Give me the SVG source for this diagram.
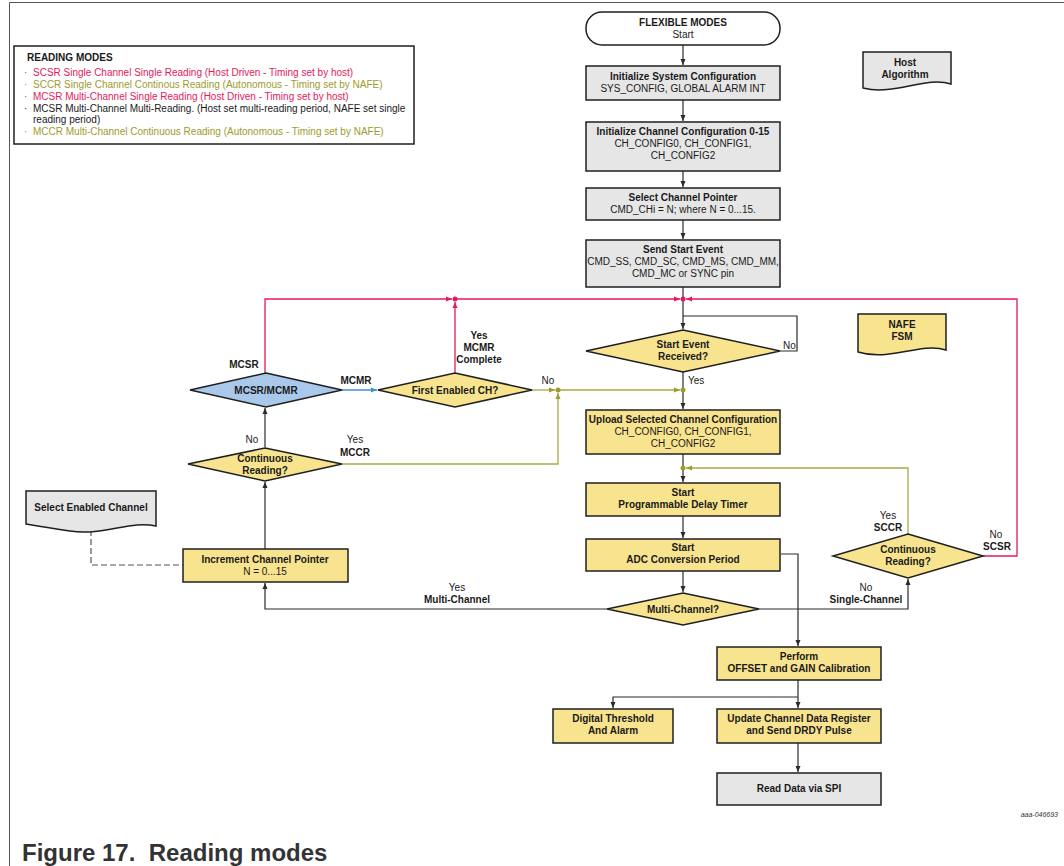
<svg xmlns="http://www.w3.org/2000/svg" width="1064" height="866" viewBox="0 0 1064 866">
<defs>
<style>
text{font-family:"Liberation Sans",Arial,sans-serif;font-size:10px;fill:#1a1a1a}
.b{font-weight:bold}
.c{text-anchor:middle}
.box{stroke:#1f1f1f;stroke-width:1.5}
.gray{fill:#e6e6e6}
.yel{fill:#f8e38f}
.blue{fill:#a9c8ea}
.ln{fill:none;stroke:#2b2b2b;stroke-width:1.2}
.red{fill:none;stroke:#e5195a;stroke-width:1.3}
.olv{fill:none;stroke:#a8a84a;stroke-width:1.3}
.blu{fill:none;stroke:#3c8fd9;stroke-width:1.3}
.tr{fill:#e5195a}
.to{fill:#9c9c2d}
</style>
<marker id="ak" markerWidth="6" markerHeight="6" refX="6" refY="3" orient="auto" markerUnits="userSpaceOnUse"><path d="M0,0.5 L6,3 L0,5.5 z" fill="#2b2b2b"/></marker>
<marker id="ar" markerWidth="6" markerHeight="6" refX="6" refY="3" orient="auto" markerUnits="userSpaceOnUse"><path d="M0,0.5 L6,3 L0,5.5 z" fill="#e5195a"/></marker>
<marker id="ao" markerWidth="6" markerHeight="6" refX="6" refY="3" orient="auto" markerUnits="userSpaceOnUse"><path d="M0,0.5 L6,3 L0,5.5 z" fill="#9c9c2d"/></marker>
<marker id="ab" markerWidth="6" markerHeight="6" refX="6" refY="3" orient="auto" markerUnits="userSpaceOnUse"><path d="M0,0.5 L6,3 L0,5.5 z" fill="#3c8fd9"/></marker>
</defs>
<rect width="1064" height="866" fill="#ffffff"/>
<path d="M9.5,866 V2.5 H1064" fill="none" stroke="#555" stroke-width="1"/>

<g id="legend">
<rect x="14" y="46" width="400" height="98" fill="#fff" stroke="#1f1f1f" stroke-width="1.5"/>
<text x="27" y="61" class="b">READING MODES</text>
<text x="24" y="76" class="tr">·</text><text x="33" y="76" class="tr">SCSR Single Channel Single Reading (Host Driven - Timing set by host)</text>
<text x="24" y="88" class="to">·</text><text x="33" y="88" class="to">SCCR Single Channel Continous Reading (Autonomous - Timing set by NAFE)</text>
<text x="24" y="100" class="tr">·</text><text x="33" y="100" class="tr">MCSR Multi-Channel Single Reading (Host Driven - Timing set by host)</text>
<text x="24" y="112">·</text><text x="33" y="112">MCSR Multi-Channel Multi-Reading. (Host set multi-reading period, NAFE set single</text>
<text x="33" y="123">reading period)</text>
<text x="24" y="135" class="to">·</text><text x="33" y="135" class="to">MCCR Multi-Channel Continuous Reading (Autonomous - Timing set by NAFE)</text>
</g>

<g id="connectors">
<path class="ln" d="M683,45 V65" marker-end="url(#ak)"/>
<path class="ln" d="M683,100 V121" marker-end="url(#ak)"/>
<path class="ln" d="M683,171 V187" marker-end="url(#ak)"/>
<path class="ln" d="M683,220 V239" marker-end="url(#ak)"/>
<path class="ln" d="M683,287 V329" marker-end="url(#ak)"/>
<path class="ln" d="M780,351 H797 V316 H683"/>
<path class="ln" d="M683,372 V409" marker-end="url(#ak)"/>
<path class="ln" d="M683,454 V482" marker-end="url(#ak)"/>
<path class="ln" d="M683,516 V538" marker-end="url(#ak)"/>
<path class="ln" d="M683,571 V592" marker-end="url(#ak)"/>
<path class="ln" d="M781,554 H798 V646" marker-end="url(#ak)"/>
<path class="ln" d="M607,609 H265 V583" marker-end="url(#ak)"/>
<path class="ln" d="M759,609 H908 V579" marker-end="url(#ak)"/>
<path class="ln" d="M798,680 V708" marker-end="url(#ak)"/>
<path class="ln" d="M798,697 H613 V708" marker-end="url(#ak)"/>
<path class="ln" d="M798,743 V772" marker-end="url(#ak)"/>
<path class="ln" d="M265,549 V482" marker-end="url(#ak)"/>
<path class="ln" d="M265,447 V408" marker-end="url(#ak)"/>
<path d="M91,530 V565 H183" fill="none" stroke="#555" stroke-width="1.2" stroke-dasharray="6,3"/>
<path class="blu" d="M342,390 H377" marker-end="url(#ab)"/>
<path class="red" d="M265,373 V299 H452" marker-end="url(#ar)"/>
<path class="red" d="M455,373 V302" marker-end="url(#ar)"/>
<path class="red" d="M455,299 H680" marker-end="url(#ar)"/>
<path class="red" d="M983,556 H1017 V299 H686" marker-end="url(#ar)"/>
<path class="olv" d="M532,390 H555" marker-end="url(#ao)"/>
<path class="olv" d="M558,390 H680" marker-end="url(#ao)"/>
<path class="olv" d="M342,464 H558 V393" marker-end="url(#ao)"/>
<path class="olv" d="M908,534 V468 H686" marker-end="url(#ao)"/>
<circle cx="455" cy="299" r="2.5" fill="#e5195a"/>
<circle cx="683" cy="299" r="2.5" fill="#e5195a"/>
<circle cx="558" cy="390" r="2.5" fill="#9c9c2d"/>
<circle cx="683" cy="390" r="2.5" fill="#9c9c2d"/>
<circle cx="683" cy="468" r="2.5" fill="#9c9c2d"/>
</g>

<g id="labels">
<text x="244" y="368" class="b c">MCSR</text>
<text x="356" y="384" class="b c">MCMR</text>
<text x="479" y="339" class="b c">Yes</text>
<text x="479" y="351" class="b c">MCMR</text>
<text x="479" y="363" class="b c">Complete</text>
<text x="548" y="384" class="c">No</text>
<text x="783" y="349">No</text>
<text x="688" y="384">Yes</text>
<text x="252" y="443" class="c">No</text>
<text x="355" y="443" class="c">Yes</text>
<text x="355" y="456" class="b c">MCCR</text>
<text x="457" y="591" class="c">Yes</text>
<text x="457" y="603" class="b c">Multi-Channel</text>
<text x="866" y="591" class="c">No</text>
<text x="866" y="603" class="b c">Single-Channel</text>
<text x="888" y="519" class="c">Yes</text>
<text x="888" y="531" class="b c">SCCR</text>
<text x="996" y="538" class="c">No</text>
<text x="997" y="550" class="b c">SCSR</text>
</g>

<g id="start">
<rect x="586" y="12" width="194" height="33" rx="16" fill="#fff" class="box"/>
<text x="683" y="26" class="b c">FLEXIBLE MODES</text>
<text x="683" y="38" class="c">Start</text>
</g>
<g id="init-sys">
<rect x="586" y="66" width="194" height="34" class="box gray"/>
<text x="683" y="80" class="b c">Initialize System Configuration</text>
<text x="683" y="92" class="c">SYS_CONFIG, GLOBAL ALARM INT</text>
</g>
<g id="init-ch">
<rect x="586" y="122" width="194" height="49" class="box gray"/>
<text x="683" y="135" class="b c">Initialize Channel Configuration 0-15</text>
<text x="683" y="147" class="c">CH_CONFIG0, CH_CONFIG1,</text>
<text x="683" y="159" class="c">CH_CONFIG2</text>
</g>
<g id="select-ptr">
<rect x="586" y="188" width="194" height="32" class="box gray"/>
<text x="683" y="201" class="b c">Select Channel Pointer</text>
<text x="683" y="213" class="c">CMD_CHi = N; where N = 0...15.</text>
</g>
<g id="send-start">
<rect x="586" y="240" width="194" height="47" class="box gray"/>
<text x="683" y="253" class="b c">Send Start Event</text>
<text x="683" y="265" class="c">CMD_SS, CMD_SC, CMD_MS, CMD_MM,</text>
<text x="683" y="277" class="c">CMD_MC or SYNC pin</text>
</g>
<g id="host-alg">
<path d="M863,52 H951 V84 C925,76 895,96 863,88 Z" class="box gray"/>
<text x="905" y="66" class="b c">Host</text>
<text x="905" y="78" class="b c">Algorithm</text>
</g>
<g id="nafe-fsm">
<path d="M858,314 H946 V350 C920,342 890,362 858,352 Z" class="box yel"/>
<text x="902" y="328" class="b c">NAFE</text>
<text x="902" y="340" class="b c">FSM</text>
</g>
<g id="start-event">
<polygon points="683,330 780,351 683,372 586,351" class="box yel"/>
<text x="683" y="348" class="b c">Start Event</text>
<text x="683" y="360" class="b c">Received?</text>
</g>
<g id="mcsr-mcmr">
<polygon points="266,373 342,390 266,407 190,390" class="box blue"/>
<text x="266" y="394" class="b c">MCSR/MCMR</text>
</g>
<g id="first-enabled">
<polygon points="455,373 532,390 455,407 378,390" class="box yel"/>
<text x="455" y="394" class="b c">First Enabled CH?</text>
</g>
<g id="upload">
<rect x="586" y="410" width="194" height="44" class="box yel"/>
<text x="683" y="423" class="b c">Upload Selected Channel Configuration</text>
<text x="683" y="435" class="c">CH_CONFIG0, CH_CONFIG1,</text>
<text x="683" y="447" class="c">CH_CONFIG2</text>
</g>
<g id="cont-left">
<polygon points="265,448 342,464 265,481 188,464" class="box yel"/>
<text x="265" y="462" class="b c">Continuous</text>
<text x="265" y="474" class="b c">Reading?</text>
</g>
<g id="delay">
<rect x="586" y="483" width="194" height="33" class="box yel"/>
<text x="683" y="496" class="b c">Start</text>
<text x="683" y="508" class="b c">Programmable Delay Timer</text>
</g>
<g id="select-enabled">
<path d="M26,491 H156 V526 C130,520 105,536 70,531 C50,528 38,526 26,524 Z" class="box gray"/>
<text x="91" y="511" class="b c">Select Enabled Channel</text>
</g>
<g id="increment">
<rect x="183" y="549" width="165" height="33" class="box yel"/>
<text x="265" y="563" class="b c">Increment Channel Pointer</text>
<text x="265" y="575" class="c">N = 0...15</text>
</g>
<g id="adc">
<rect x="586" y="539" width="194" height="32" class="box yel"/>
<text x="683" y="551" class="b c">Start</text>
<text x="683" y="563" class="b c">ADC Conversion Period</text>
</g>
<g id="cont-right">
<polygon points="908,534 983,556 908,578 833,556" class="box yel"/>
<text x="908" y="553" class="b c">Continuous</text>
<text x="908" y="565" class="b c">Reading?</text>
</g>
<g id="multi-ch">
<polygon points="683,593 759,609 683,625 607,609" class="box yel"/>
<text x="683" y="613" class="b c">Multi-Channel?</text>
</g>
<g id="perform">
<rect x="717" y="647" width="164" height="33" class="box yel"/>
<text x="799" y="660" class="b c">Perform</text>
<text x="799" y="672" class="b c">OFFSET and GAIN Calibration</text>
</g>
<g id="digital">
<rect x="553" y="709" width="120" height="34" class="box yel"/>
<text x="613" y="722" class="b c">Digital Threshold</text>
<text x="613" y="734" class="b c">And Alarm</text>
</g>
<g id="update">
<rect x="717" y="709" width="164" height="34" class="box yel"/>
<text x="799" y="722" class="b c">Update Channel Data Register</text>
<text x="799" y="734" class="b c">and Send DRDY Pulse</text>
</g>
<g id="read">
<rect x="717" y="773" width="164" height="32" class="box gray"/>
<text x="799" y="792" class="b c">Read Data via SPI</text>
</g>

<text x="1058" y="817" style="font-size:7px;font-style:italic;text-anchor:end;fill:#333">aaa-046693</text>
<text x="22" y="861" class="b" style="font-size:24px;fill:#333">Figure 17.&#160; Reading modes</text>
</svg>
